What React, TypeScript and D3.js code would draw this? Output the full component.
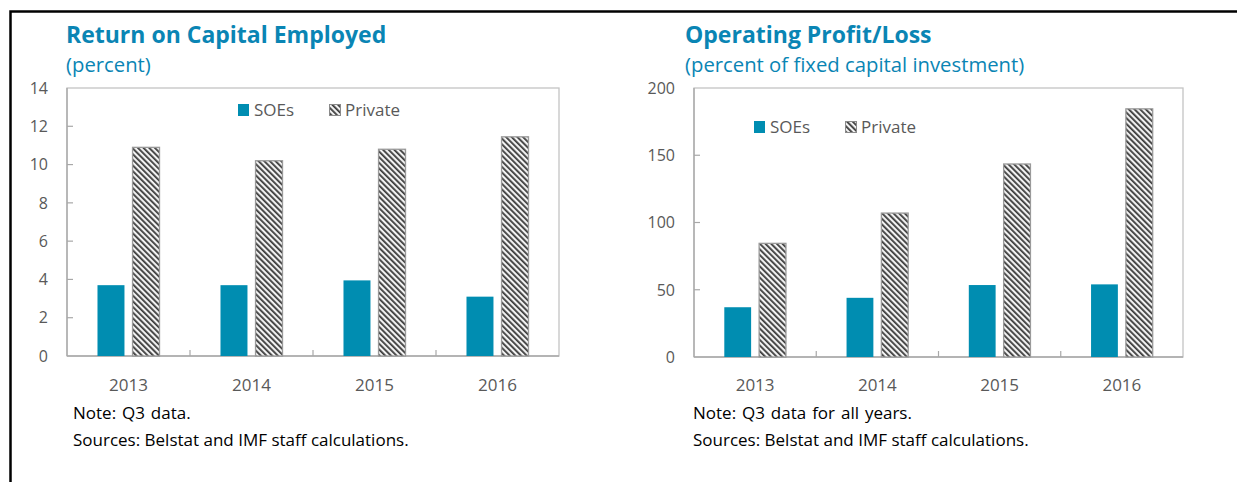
import React from 'react'
import * as d3 from 'd3'

const years = ['2013', '2014', '2015', '2016']
const series = ['SOEs', 'Private']

// Return on capital employed, percent
const rocSoe = [3.7, 3.7, 3.95, 3.1]
const rocPrivate = [10.9, 10.2, 10.8, 11.45]
const rocTicks = [0, 2, 4, 6, 8, 10, 12, 14]

// Operating profit, percent of fixed capital investment
const opSoe = [37, 44, 53.5, 54]
const opPrivate = [84.5, 107, 143.5, 184.5]
const opTicks = [0, 50, 100, 150, 200]

const FONT = '"Open Sans", "Noto Sans", sans-serif'
const TEAL = '#008db1'
const TITLE = '#0a85b4'

interface PanelProps {
  id: string
  title: string
  subtitle: string
  note: string
  soe: number[]
  priv: number[]
  ticks: number[]
  plot: { x: number; y: number; w: number; h: number }
  legend: { x: number; y: number }
  textX: number
  noteX: number
}

const Panel = ({ id, title, subtitle, note, soe, priv, ticks, plot, legend, textX, noteX }: PanelProps) => {
  const x0 = d3.scaleBand<string>().domain(years).range([plot.x, plot.x + plot.w]).padding(0)
  const x1 = d3
    .scaleBand<string>()
    .domain(series)
    .range([0, x0.bandwidth()])
    .paddingInner(0.23)
    .paddingOuter(0.87)
  const y = d3
    .scaleLinear()
    .domain([0, ticks[ticks.length - 1]])
    .range([plot.y + plot.h, plot.y])

  const bottom = plot.y + plot.h

  return (
    <g>
      <text x={textX} y={43} fontFamily={FONT} fontWeight={700} fontSize={23} fill={TITLE}>
        {title}
      </text>
      <text x={textX} y={72} fontFamily={FONT} fontSize={20.3} fill={TITLE}>
        {subtitle}
      </text>

      {/* plot frame */}
      <rect x={plot.x} y={plot.y} width={plot.w} height={plot.h} fill="none" stroke="#c4c4c4" strokeWidth={1.3} />
      <line x1={plot.x} x2={plot.x} y1={plot.y} y2={bottom} stroke="#a8a8a8" strokeWidth={1.3} />
      <line x1={plot.x} x2={plot.x + plot.w} y1={bottom} y2={bottom} stroke="#a8a8a8" strokeWidth={1.5} />

      {ticks.map((t) => (
        <g key={t}>
          {t > 0 && t < ticks[ticks.length - 1] && (
            <line x1={plot.x} x2={plot.x + 6} y1={y(t)} y2={y(t)} stroke="#a8a8a8" strokeWidth={1.2} />
          )}
          <text
            x={plot.x - 19}
            y={y(t)}
            dy="0.36em"
            textAnchor="end"
            fontFamily={FONT}
            fontSize={16}
            fill="#595959"
          >
            {t}
          </text>
        </g>
      ))}

      {years.slice(1).map((yr) => (
        <line
          key={yr}
          x1={x0(yr)!}
          x2={x0(yr)!}
          y1={bottom}
          y2={bottom - 6}
          stroke="#a8a8a8"
          strokeWidth={1.2}
        />
      ))}

      {years.map((yr, i) => (
        <g key={yr}>
          <rect
            x={x0(yr)! + x1('SOEs')!}
            y={y(soe[i])}
            width={x1.bandwidth()}
            height={bottom - y(soe[i])}
            fill={TEAL}
          />
          <rect
            x={x0(yr)! + x1('Private')!}
            y={y(priv[i])}
            width={x1.bandwidth()}
            height={bottom - y(priv[i])}
            fill={`url(#hatch-${id})`}
            stroke="#9a9a9a"
            strokeWidth={1.3}
          />
          <text
            x={x0(yr)! + x0.bandwidth() / 2}
            y={385}
            dy="0.36em"
            textAnchor="middle"
            fontFamily={FONT}
            fontSize={17}
            fill="#595959"
          >
            {yr}
          </text>
        </g>
      ))}

      {/* legend */}
      <rect x={legend.x} y={legend.y} width={11} height={12} fill={TEAL} />
      <text x={legend.x + 16} y={legend.y + 6} dy="0.36em" fontFamily={FONT} fontSize={17} fill="#595959">
        {series[0]}
      </text>
      <rect
        x={legend.x + 91.5}
        y={legend.y + 0.5}
        width={11}
        height={11}
        fill={`url(#hatch-${id})`}
        stroke="#8a8a8a"
        strokeWidth={1}
      />
      <text x={legend.x + 107} y={legend.y + 6} dy="0.36em" fontFamily={FONT} fontSize={17} fill="#595959">
        {series[1]}
      </text>

      <text x={noteX} y={419} fontFamily={FONT} fontSize={17} wordSpacing={1.5} fill="#000">
        {note}
      </text>
      <text x={noteX} y={446} fontFamily={FONT} fontSize={17} fill="#000">
        Sources: Belstat and IMF staff calculations.
      </text>
    </g>
  )
}

const Hatch = ({ id }: { id: string }) => (
  <pattern id={`hatch-${id}`} patternUnits="userSpaceOnUse" width={4} height={4} patternTransform="rotate(-45)">
    <rect width={4} height={4} fill="#f2f2f2" />
    <line x1={0.9} x2={0.9} y1={0} y2={4} stroke="#3a3a3a" strokeWidth={1.8} />
  </pattern>
)

export default function App() {
  return (
    <svg
      width={1237}
      height={482}
      style={{ position: 'absolute', left: 0, top: 0, background: '#fff' }}
    >
      <defs>
        <Hatch id="a" />
        <Hatch id="b" />
      </defs>
      <rect x={0} y={0} width={1237} height={482} fill="#fff" />
      <path d="M10.5,500 V11.5 H1250" fill="none" stroke="#000" strokeWidth={2.5} />

      <Panel
        id="a"
        title="Return on Capital Employed"
        subtitle="(percent)"
        note="Note: Q3 data."
        soe={rocSoe}
        priv={rocPrivate}
        ticks={rocTicks}
        plot={{ x: 67, y: 88, w: 492, h: 268 }}
        legend={{ x: 238, y: 104 }}
        textX={66}
        noteX={73}
      />
      <Panel
        id="b"
        title="Operating Profit/Loss"
        subtitle="(percent of fixed capital investment)"
        note="Note: Q3 data for all years."
        soe={opSoe}
        priv={opPrivate}
        ticks={opTicks}
        plot={{ x: 694, y: 88, w: 489, h: 269 }}
        legend={{ x: 754, y: 121 }}
        textX={685}
        noteX={693}
      />
    </svg>
  )
}
